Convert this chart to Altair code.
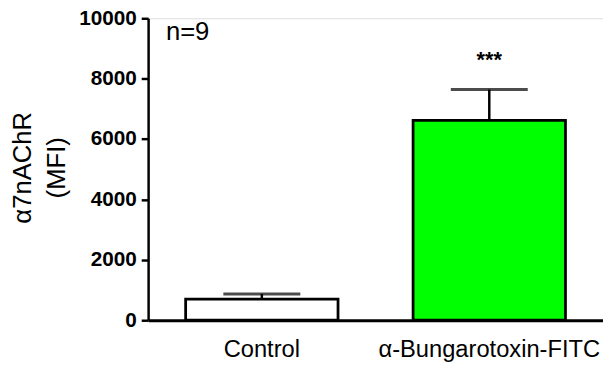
import altair as alt
import pandas as pd

categories = ["Control", "α-Bungarotoxin-FITC"]
means = [700, 6620]
sems = [170, 1020]
fills = ["#FFFFFF", "#00FF00"]
y_ticks = [0, 2000, 4000, 6000, 8000, 10000]
annotation_n = "n=9"
annotation_sig = "***"

df = pd.DataFrame({"cat": categories, "mean": means, "sem": sems, "fill": fills})
df["upper"] = df["mean"] + df["sem"]

FONT = "Liberation Sans"

x_enc = alt.X(
    "cat:N",
    sort=categories,
    scale=alt.Scale(paddingInner=0.33, paddingOuter=0.165),
    axis=alt.Axis(
        title=None,
        labelAngle=0,
        labelFont=FONT,
        labelFontSize=24,
        labelColor="black",
        labelPadding=18,
        labelLimit=400,
        ticks=False,
        domainColor="black",
        domainWidth=3,
    ),
)
y_scale = alt.Scale(domain=[0, 10000], nice=False)

bars = alt.Chart(df).mark_bar(stroke="black", strokeWidth=2.8).encode(
    x=x_enc,
    y=alt.Y(
        "mean:Q",
        scale=y_scale,
        axis=alt.Axis(
            values=y_ticks,
            format="d",
            grid=False,
            labelFont=FONT,
            labelFontSize=21,
            labelFontWeight="bold",
            labelColor="black",
            labelPadding=5,
            tickSize=7,
            tickWidth=2.5,
            tickColor="black",
            domainColor="black",
            domainWidth=2.5,
            title=["α7nAChR", "(MFI)"],
            titleFont=FONT,
            titleFontSize=26,
            titleFontWeight="normal",
            titleColor="black",
            titleLineHeight=34,
            titleX=-140,
            titleY=151,
            titleBaseline="top",
            titleAlign="center",
        ),
    ),
    fill=alt.Fill("fill:N", scale=None),
)

err_line = alt.Chart(df).mark_rule(color="black", strokeWidth=2.5).encode(
    x=alt.X("cat:N", sort=categories),
    y=alt.Y("mean:Q", scale=y_scale),
    y2="upper:Q",
)

caps = alt.Chart(df).mark_tick(color="black", thickness=3, size=78, orient="horizontal").encode(
    x=alt.X("cat:N", sort=categories),
    y=alt.Y("upper:Q", scale=y_scale),
)

n_text = alt.Chart(pd.DataFrame({"t": [annotation_n]})).mark_text(
    font=FONT, fontSize=26, align="left", baseline="middle", color="black"
).encode(x=alt.value(18), y=alt.datum(9530), text="t:N")

sig_text = alt.Chart(pd.DataFrame({"cat": [categories[1]], "t": [annotation_sig]})).mark_text(
    font=FONT, fontSize=22, fontWeight="bold", align="center", baseline="alphabetic", color="black"
).encode(x=alt.X("cat:N", sort=categories), y=alt.datum(8400), text="t:N")

chart = alt.layer(bars, err_line, caps, n_text, sig_text).properties(
    width=461,
    height=306,
    autosize=alt.AutoSizeParams(type="none"),
    padding={"left": 142, "top": 8, "right": 0, "bottom": 47},
).configure_view(stroke=None).configure(background="white")

chart.save("out.html", embed_options={"renderer": "svg", "actions": False})
